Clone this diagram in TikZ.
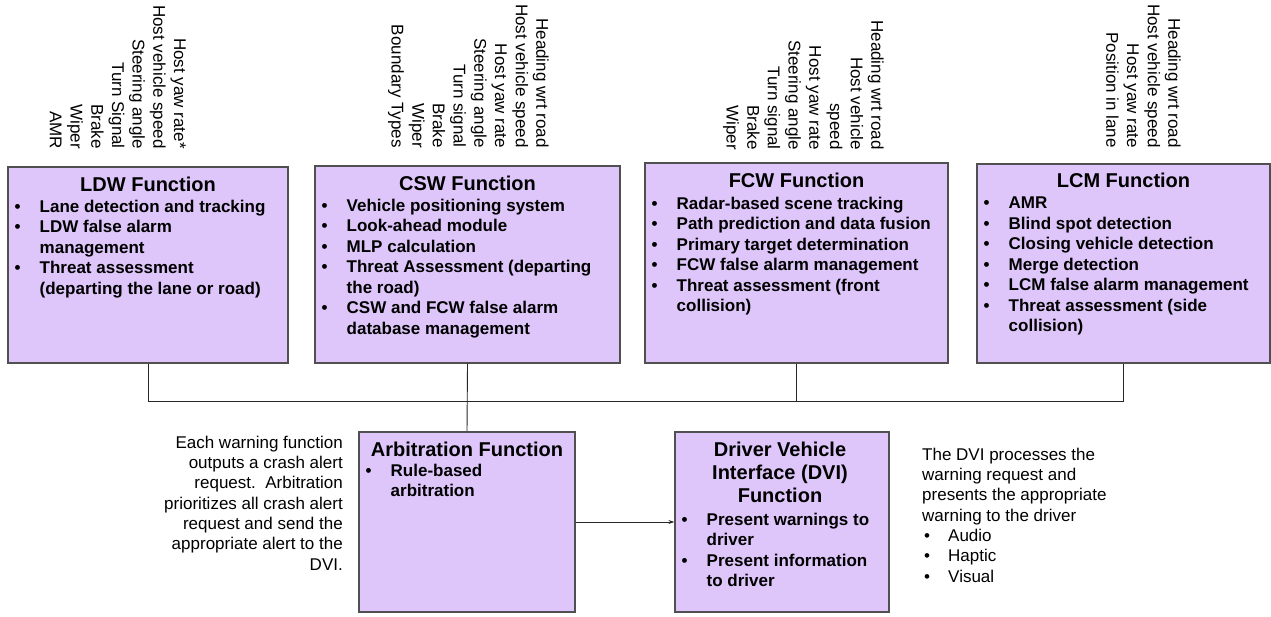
\documentclass[tikz,border=0pt]{standalone}
\usepackage{fontspec}
\setmainfont{Liberation Sans}
\usetikzlibrary{arrows.meta}
\definecolor{boxfill}{RGB}{222,198,250}
\definecolor{boxline}{RGB}{80,80,80}
\newcommand{\bl}  {\makebox[25pt][l]{\textbullet}}
\newcommand{\ind} {\hspace*{25pt}}
\newcommand{\sbl} {\hspace*{2pt}\makebox[24pt][l]{\textbullet}}

\tikzset{
  funcbox/.style={draw=boxline,fill=boxfill,line width=1.2pt,inner sep=0pt},
  ttl/.style={font=\fontsize{20}{23}\selectfont\bfseries,inner sep=0pt,align=center},
  lst/.style={font=\fontsize{17}{20.5}\selectfont\bfseries,inner sep=0pt,align=left,anchor=north west},
  sig/.style={font=\fontsize{17}{20.7}\selectfont,inner sep=0pt,align=right,rotate=-90,anchor=north east},
  note/.style={font=\fontsize{17}{20.3}\selectfont,inner sep=0pt},
  wire/.style={draw=black!85,line width=0.9pt}
}

\begin{document}
\begin{tikzpicture}[x=1pt,y=-1pt]
  \useasboundingbox (0,0) rectangle (1271,616);
  % input signals
  \node[sig] (ldwIn) at (186,149) {Host yaw rate*\\Host vehicle speed\\Steering angle\\Turn Signal\\Brake\\Wiper\\AMR};
  \node[sig] (cswIn) at (549,148) {Heading wrt road\\Host vehicle speed\\Host yaw rate\\Steering angle\\Turn signal\\Brake\\Wiper\\Boundary Types};
  \node[sig] (fcwIn) at (884,150) {Heading wrt road\\Host vehicle\\speed\\Host yaw rate\\Steering angle\\Turn signal\\Brake\\Wiper};
  \node[sig] (lcmIn) at (1181,148) {Heading wrt road\\Host vehicle speed\\Host yaw rate\\Position in lane};
  % warning functions
  \node[funcbox,minimum width=280pt,minimum height=196pt] (ldw) at (148,265) {};
  \node[ttl] (ldwT) at (148,184) {LDW Function};
  \node[lst] (ldwL) at (14.5,199.7) {\bl Lane detection and tracking\\\bl LDW false alarm\\\ind management\\\bl Threat assessment\\\ind (departing the lane or road)};

  \node[funcbox,minimum width=305pt,minimum height=197pt] (csw) at (467.5,264.5) {};
  \node[ttl] (cswT) at (467.5,183) {CSW Function};
  \node[lst] (cswL) at (321.5,198.7) {\bl Vehicle positioning system\\\bl Look-ahead module\\\bl MLP calculation\\\bl Threat Assessment (departing\\\ind the road)\\\bl CSW and FCW false alarm\\\ind database management};

  \node[funcbox,minimum width=303pt,minimum height=200pt] (fcw) at (796.5,263) {};
  \node[ttl] (fcwT) at (796.5,180) {FCW Function};
  \node[lst] (fcwL) at (651.5,196.7) {\bl Radar-based scene tracking\\\bl Path prediction and data fusion\\\bl Primary target determination\\\bl FCW false alarm management\\\bl Threat assessment (front\\\ind collision)};

  \node[funcbox,minimum width=293pt,minimum height=199pt] (lcm) at (1123.5,263.5) {};
  \node[ttl] (lcmT) at (1123.5,180) {LCM Function};
  \node[lst] (lcmL) at (983.5,196.7) {\bl AMR\\\bl Blind spot detection\\\bl Closing vehicle detection\\\bl Merge detection\\\bl LCM false alarm management\\\bl Threat assessment (side\\\ind collision)};
  % arbitration and DVI
  \node[funcbox,minimum width=216pt,minimum height=180pt] (arb) at (467,522) {};
  \node[ttl] (arbT) at (467,449) {Arbitration Function};
  \node[lst] (arbL) at (365.5,463.7) {\bl Rule-based\\\ind arbitration};

  \node[funcbox,minimum width=214pt,minimum height=180pt] (dvi) at (782,522) {};
  \node[ttl] (dviT) at (780,472) {Driver Vehicle\\Interface (DVI)\\Function};
  \node[lst] (dviL) at (681.5,512.7) {\bl Present warnings to\\\ind driver\\\bl Present information\\\ind to driver};

  \node[note,align=right,anchor=north east] (arbNote) at (343,435.7) {Each warning function\\outputs a crash alert\\request.\ \ Arbitration\\prioritizes all crash alert\\request and send the\\appropriate alert to the\\DVI.};
  \node[note,align=left,anchor=north west] (dviNote) at (922,447.7) {The DVI processes the\\warning request and\\presents the appropriate\\warning to the driver\\\sbl Audio\\\sbl Haptic\\\sbl Visual};
  % connectors
  \coordinate (bus) at (0,401);
  \draw[wire] (ldw.south) -- (ldw.south |- bus) -- (lcm.south |- bus) -- (lcm.south);
  \draw[wire] (fcw.south) -- (fcw.south |- bus);
  \draw[wire] (csw.south) -- (arb.north);
  \draw[wire,-{Stealth[length=6pt,width=4pt]}] (arb.east) -- (dvi.west);
\end{tikzpicture}
\end{document}
